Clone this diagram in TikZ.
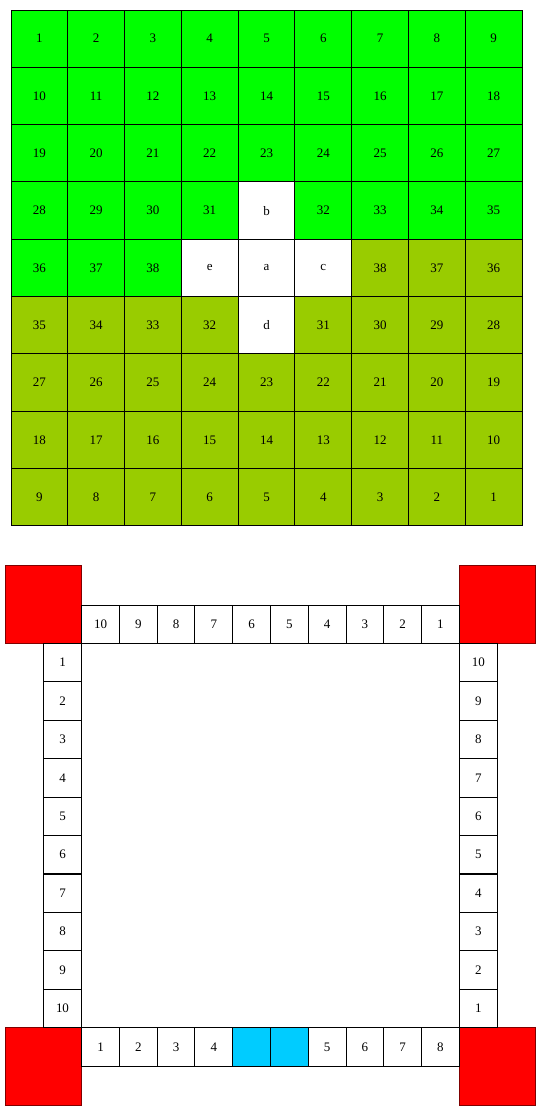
\documentclass[tikz,border=0pt]{standalone}
\usepackage{fontspec}
\setmainfont{Liberation Serif}
\definecolor{G}{HTML}{00FF00}
\definecolor{O}{HTML}{99CC00}
\definecolor{W}{HTML}{FFFFFF}
\definecolor{C}{HTML}{00CCFF}
\definecolor{darkred}{HTML}{800000}
\begin{document}
\begin{tikzpicture}[x=1pt,y=-1pt,
  cell/.style={draw=black,line width=1pt,minimum width=56.78pt,minimum height=57.33pt,inner sep=0pt,font=\fontsize{13}{13}\selectfont},
  track/.style={draw=black,line width=1pt,fill=white,minimum width=37.8pt,minimum height=38.3pt,inner sep=0pt,font=\fontsize{13}{13}\selectfont},
  corner/.style={draw=darkred,line width=1pt,fill=red,minimum width=76.2pt,minimum height=77.4pt,inner sep=0pt}]
\useasboundingbox (0,0) rectangle (543,1120);
% top grid
\foreach \lab/\fc [count=\i from 0] in {
 1/G,2/G,3/G,4/G,5/G,6/G,7/G,8/G,9/G,
 10/G,11/G,12/G,13/G,14/G,15/G,16/G,17/G,18/G,
 19/G,20/G,21/G,22/G,23/G,24/G,25/G,26/G,27/G,
 28/G,29/G,30/G,31/G,b/W,32/G,33/G,34/G,35/G,
 36/G,37/G,38/G,e/W,a/W,c/W,38/O,37/O,36/O,
 35/O,34/O,33/O,32/O,d/W,31/O,30/O,29/O,28/O,
 27/O,26/O,25/O,24/O,23/O,22/O,21/O,20/O,19/O,
 18/O,17/O,16/O,15/O,14/O,13/O,12/O,11/O,10/O,
 9/O,8/O,7/O,6/O,5/O,4/O,3/O,2/O,1/O}{
 \pgfmathtruncatemacro\r{div(\i,9)}
 \pgfmathtruncatemacro\c{mod(\i,9)}
 \node[cell,fill=\fc] (t\i) at ({11+56.78*(\c+0.5)},{10+57.33*(\r+0.5)}) {\lab};
}
% corners
\node[corner] (rtl) at (43.5,604.6) {};
\node[corner] (rtr) at (497.1,604.6) {};
\node[corner] (rbl) at (43.5,1066.5) {};
\node[corner] (rbr) at (497.1,1066.5) {};
% top row
\foreach \lab [count=\i from 0] in {10,9,8,7,6,5,4,3,2,1}{
 \node[track] (up\i) at ({81.7+37.76*(\i+0.5)},624.3) {\lab};
}
% left column
\foreach \lab [count=\i from 0] in {1,2,3,4,5,6,7,8,9,10}{
 \node[track] (lf\i) at (62.5,{643.3+38.44*(\i+0.5)}) {\lab};
}
% right column
\foreach \lab [count=\i from 0] in {10,9,8,7,6,5,4,3,2,1}{
 \node[track] (rt\i) at (478.3,{643.3+38.44*(\i+0.5)}) {\lab};
}
% bottom row
\foreach \lab/\fc [count=\i from 0] in {1/W,2/W,3/W,4/W,{}/C,{}/C,5/W,6/W,7/W,8/W}{
 \node[track,fill=\fc] (dn\i) at ({81.7+37.76*(\i+0.5)},1046.9) {\lab};
}
\end{tikzpicture}
\end{document}
